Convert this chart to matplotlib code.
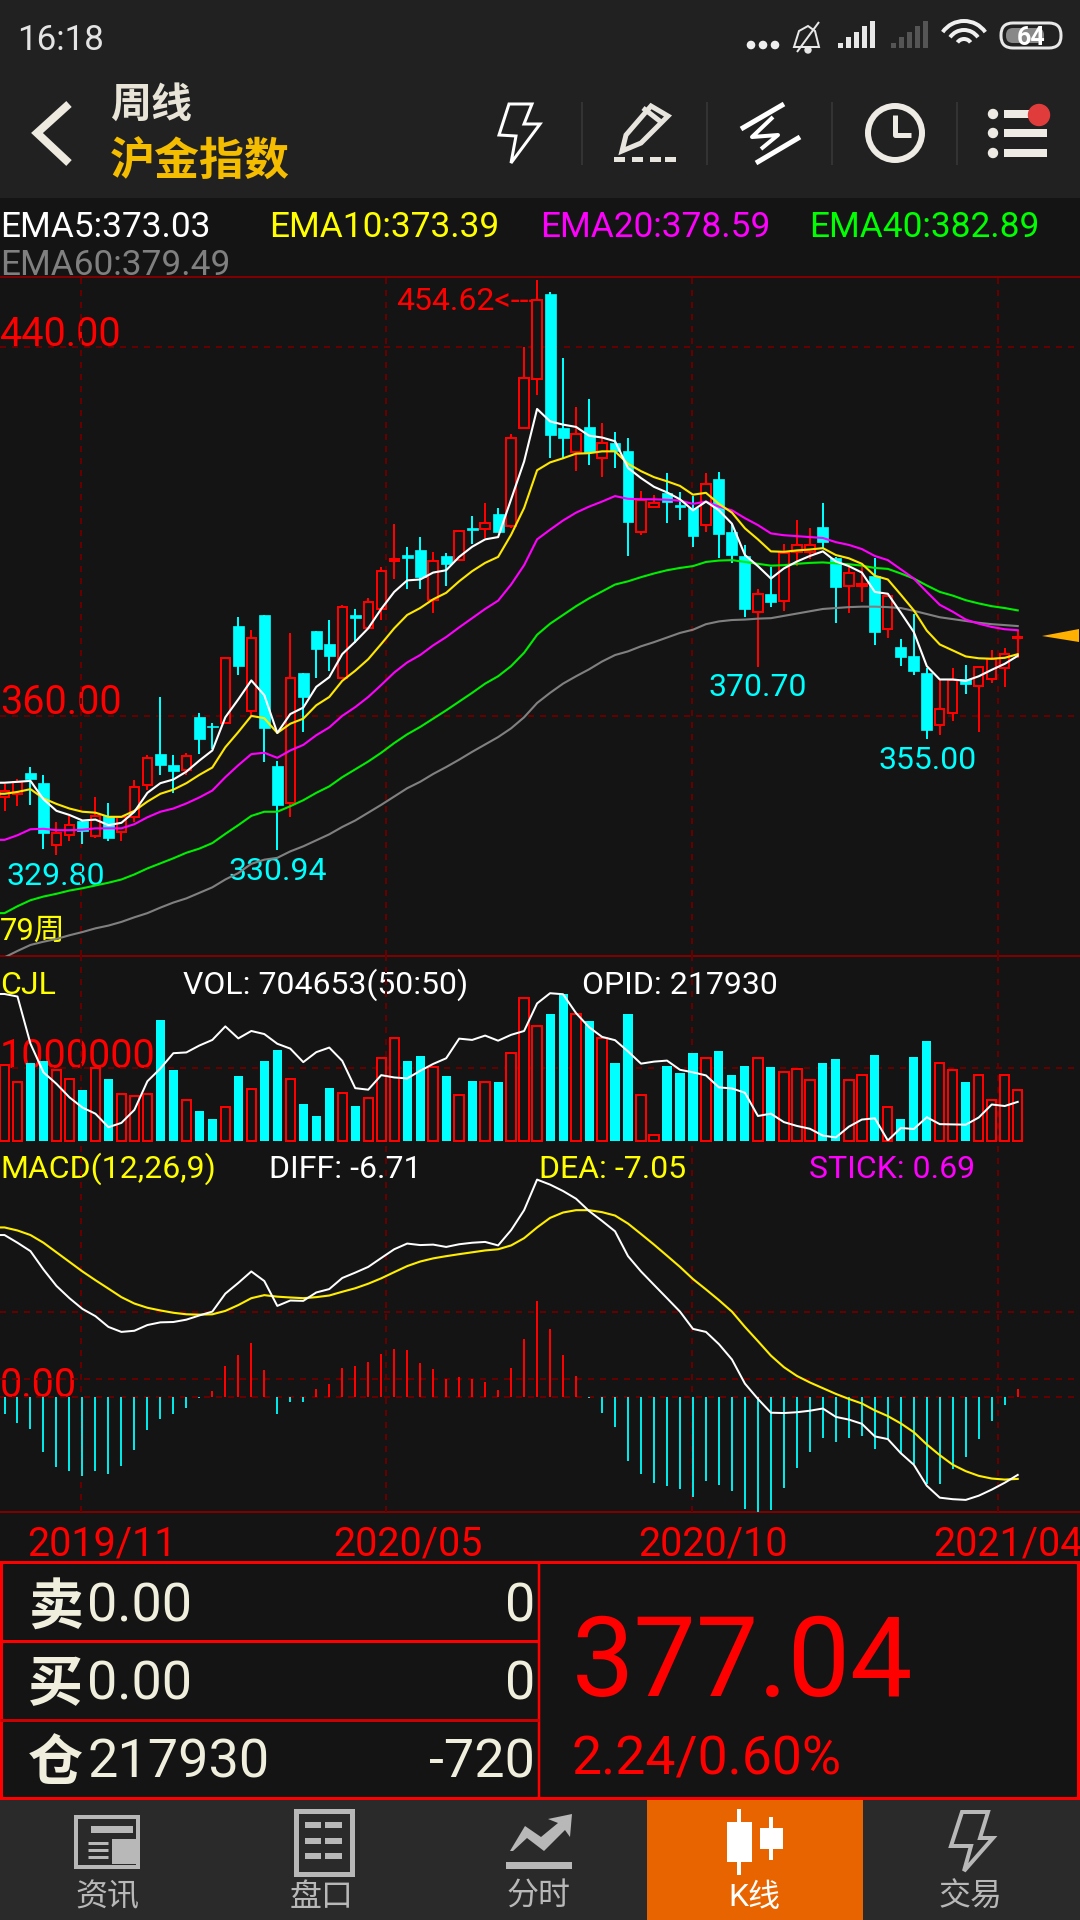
import matplotlib
matplotlib.use('Agg')
import matplotlib.pyplot as plt
from matplotlib.patches import Rectangle, Circle, Polygon, FancyBboxPatch, Arc

plt.rcParams['font.family'] = ['Roboto', 'Noto Sans CJK SC', 'DejaVu Sans']

# weekly candles, oldest first
opens = [342.5, 343.1, 347.7, 345.4, 331.9, 334.1, 337.1, 333.9, 338.3, 334.8, 338.0, 345.0, 351.8, 349.4, 348.3, 359.7,
         357.9, 358.5, 379.5, 361.0, 381.8, 349.2, 341.2, 369.4, 378.5, 375.5, 368.2, 381.9, 379.0, 383.1, 393.7, 395.0,
         396.1, 385.1, 394.7, 393.9, 400.7, 400.6, 403.8, 401.2, 422.5, 433.1, 451.6, 422.5, 417.2, 422.7, 416.0, 419.3,
         417.4, 400.0, 405.4, 408.4, 405.7, 405.0, 401.5, 411.3, 400.0, 394.7, 382.5, 386.4, 384.9, 395.6, 395.6, 401.0,
         394.3, 388.1, 388.2, 390.4, 378.8, 375.0, 373.0, 369.4, 358.1, 360.7, 367.9, 366.5, 368.0, 370.3, 376.9]
closes = [343.7, 345.7, 346.2, 334.6, 334.6, 336.4, 335.1, 338.3, 333.6, 338.0, 344.5, 350.8, 349.4, 348.1, 351.2, 354.9,
          357.5, 372.6, 370.8, 376.9, 357.3, 340.6, 368.3, 364.2, 374.5, 373.0, 383.7, 381.3, 384.7, 391.5, 394.1, 394.3,
          390.1, 393.6, 393.0, 400.2, 400.4, 401.9, 399.8, 420.4, 433.4, 450.3, 421.0, 420.2, 421.2, 417.3, 419.3, 417.4,
          402.1, 406.8, 406.3, 406.4, 405.4, 399.0, 410.4, 399.5, 395.0, 383.2, 386.4, 384.8, 395.4, 397.0, 397.0, 397.7,
          388.0, 390.9, 388.6, 378.2, 386.0, 372.8, 369.7, 357.0, 361.4, 367.7, 367.0, 370.6, 372.3, 373.4, 377.04]
highs = [345.2, 346.2, 348.9, 347.2, 337.0, 338.3, 337.3, 342.3, 341.2, 338.3, 346.0, 351.5, 364.1, 351.5, 352.0, 360.7,
         358.4, 372.6, 381.4, 378.6, 381.8, 350.3, 377.9, 369.4, 378.5, 380.9, 384.0, 383.1, 385.6, 392.2, 401.7, 396.6,
         398.8, 395.6, 395.4, 400.4, 403.3, 406.2, 405.1, 421.2, 440.1, 454.62, 451.9, 437.6, 427.1, 428.8, 423.6, 421.7,
         420.3, 408.9, 408.0, 412.6, 408.6, 407.7, 412.8, 413.0, 401.7, 397.0, 387.5, 392.3, 397.2, 402.5, 400.8, 406.3,
         394.5, 392.5, 392.3, 394.2, 386.3, 376.6, 382.1, 370.3, 367.9, 370.3, 371.1, 370.8, 374.4, 374.7, 378.7]
lows = [339.4, 340.4, 340.6, 331.2, 329.8, 332.9, 332.2, 333.6, 332.9, 332.9, 337.0, 344.0, 347.2, 343.3, 347.2, 351.8,
        352.8, 358.3, 368.8, 360.2, 350.1, 330.94, 338.0, 356.5, 368.2, 369.8, 367.9, 375.9, 378.8, 380.8, 389.8, 387.5,
        387.5, 382.4, 388.1, 393.7, 397.2, 398.6, 399.8, 400.7, 422.5, 429.7, 416.0, 415.9, 413.1, 414.5, 411.8, 413.7,
        394.8, 399.3, 405.1, 401.8, 402.6, 396.6, 399.8, 394.3, 393.1, 381.4, 370.7, 383.6, 382.7, 392.5, 394.0, 396.4,
        380.2, 382.3, 384.8, 375.3, 376.9, 370.9, 368.9, 355.0, 355.8, 358.9, 364.7, 356.5, 367.1, 366.3, 372.5]

ema5 = [345.5, 345.7, 345.9, 341.9, 339.4, 338.5, 337.3, 337.5, 336.3, 336.8, 339.2, 343.3, 345.4, 346.2, 347.9, 350.3,
        352.5, 359.7, 363.6, 367.7, 364.5, 356.3, 360.4, 361.8, 366.3, 368.4, 373.4, 376.1, 379.0, 383.2, 386.9, 389.4,
        389.6, 391.1, 391.6, 394.5, 396.7, 398.3, 398.8, 407.0, 415.2, 426.6, 423.9, 423.2, 422.7, 420.8, 420.4, 419.6,
        413.8, 411.6, 409.7, 408.5, 407.0, 404.6, 406.5, 404.6, 401.7, 394.9, 392.5, 389.8, 392.0, 393.5, 394.7, 395.7,
        393.5, 392.5, 391.1, 386.9, 386.5, 382.4, 378.2, 370.8, 367.9, 367.9, 367.6, 368.6, 370.0, 371.3, 373.03]
ema10 = [343.1, 343.5, 344.1, 342.1, 340.9, 339.9, 339.2, 339.0, 338.1, 338.1, 339.4, 341.4, 343.1, 344.0, 345.4, 347.2,
         348.8, 353.2, 356.5, 360.0, 359.5, 356.3, 358.3, 359.4, 362.3, 364.1, 367.6, 369.8, 372.3, 375.6, 379.0, 381.9,
         383.4, 385.3, 386.7, 389.2, 391.4, 393.2, 394.5, 399.3, 405.1, 413.3, 415.0, 415.9, 416.9, 417.0, 417.4, 417.4,
         414.7, 413.1, 411.8, 410.9, 409.9, 408.0, 408.4, 406.0, 404.1, 400.7, 398.3, 395.7, 395.6, 395.9, 396.1, 396.4,
         394.9, 394.2, 393.0, 390.4, 389.6, 386.3, 382.9, 378.5, 375.5, 374.2, 372.9, 372.5, 372.4, 372.6, 373.39]
ema20 = [333.1, 334.1, 335.4, 335.5, 335.2, 335.2, 335.3, 335.6, 335.6, 335.6, 336.5, 338.0, 339.2, 339.9, 341.0, 342.3,
         343.8, 346.7, 349.3, 351.7, 352.0, 350.9, 352.5, 353.7, 355.8, 357.5, 360.0, 361.9, 364.1, 366.7, 369.4, 371.6,
         373.2, 375.3, 377.1, 379.2, 381.2, 383.2, 385.0, 388.5, 392.7, 398.3, 400.4, 402.4, 404.1, 405.4, 406.5, 407.7,
         407.1, 407.0, 407.0, 406.9, 406.7, 406.0, 406.5, 405.4, 404.6, 402.9, 401.4, 399.6, 399.2, 399.0, 398.8, 398.6,
         397.7, 397.1, 396.2, 394.7, 393.8, 391.8, 389.8, 386.9, 384.1, 382.6, 380.9, 380.0, 379.3, 378.8, 378.59]
ema40 = [317.2, 318.7, 320.0, 320.8, 321.4, 322.1, 322.6, 323.2, 323.8, 324.5, 325.6, 326.9, 328.0, 329.1, 330.3, 331.2,
         332.4, 334.4, 336.3, 338.3, 339.2, 339.2, 340.4, 341.7, 343.3, 344.7, 346.7, 348.4, 350.1, 352.0, 354.1, 356.0,
         357.6, 359.4, 361.2, 363.1, 365.0, 367.0, 368.6, 370.8, 373.7, 377.6, 380.0, 381.9, 383.8, 385.5, 387.0, 388.5,
         389.2, 390.1, 390.9, 391.6, 392.1, 392.5, 393.4, 393.7, 393.8, 393.4, 393.0, 392.6, 392.7, 393.0, 393.2, 393.3,
         393.1, 392.9, 392.6, 392.1, 391.9, 390.9, 389.8, 388.3, 386.9, 386.1, 385.1, 384.4, 383.8, 383.4, 382.89]
ema60 = [307.6, 309.0, 310.3, 311.0, 311.6, 312.4, 313.1, 313.9, 314.5, 315.3, 316.3, 317.2, 318.4, 319.5, 320.4, 321.6,
         322.8, 324.5, 325.9, 327.9, 328.8, 329.2, 330.6, 331.7, 333.0, 334.3, 335.9, 337.3, 339.0, 340.7, 342.5, 344.3,
         345.7, 347.4, 348.9, 350.5, 352.2, 353.8, 355.4, 357.3, 359.7, 362.8, 365.0, 367.0, 368.6, 370.1, 371.8, 373.2,
         374.0, 375.1, 376.0, 377.0, 378.0, 378.7, 379.9, 380.5, 380.8, 380.9, 381.1, 381.2, 381.7, 382.2, 382.7, 383.2,
         383.4, 383.6, 383.7, 383.7, 383.6, 383.4, 382.8, 382.1, 381.4, 381.0, 380.6, 380.2, 379.9, 379.7, 379.49]

# volume in thousands of lots
volume = [1042, 812, 1068, 1094, 964, 849, 698, 1000, 849, 646, 620, 646, 1651, 969, 568, 411, 302, 464, 891, 714, 1094,
          1245, 849, 510, 344, 724, 661, 479, 583, 1135, 1411, 1094, 1161, 1016, 891, 635, 823, 802, 807, 1198, 1943, 1562,
          1734, 2005, 1729, 1635, 1411, 1068, 1734, 625, 89, 1026, 932, 1203, 1135, 1229, 901, 1026, 1135, 1010, 937, 990,
          838, 1068, 1120, 838, 896, 1177, 469, 302, 1146, 1365, 1068, 964, 807, 896, 568, 896, 704.653]
# open interest in thousands
opid = [260.2, 259.2, 240.7, 229.5, 225.0, 219.7, 215.7, 213.3, 208.0, 209.7, 214.8, 226.0, 231.0, 237.0, 237.3, 240.0,
        242.2, 247.5, 242.8, 245.7, 244.5, 240.7, 238.8, 233.5, 237.4, 239.2, 234.0, 223.3, 222.7, 228.4, 227.5, 227.1,
        230.1, 232.8, 235.0, 242.7, 242.2, 243.9, 241.9, 244.2, 245.7, 256.5, 260.5, 260.1, 252.7, 247.2, 243.4, 242.1,
        237.7, 232.9, 233.7, 234.1, 230.5, 229.5, 228.3, 223.6, 223.2, 221.5, 212.4, 213.3, 210.0, 208.5, 207.4, 204.7,
        204.0, 208.2, 211.0, 211.5, 202.8, 207.7, 207.3, 211.9, 209.2, 209.1, 209.0, 211.8, 216.9, 216.3, 217.93]

diff = [13.84, 13.18, 12.46, 10.89, 9.48, 8.43, 7.51, 6.89, 5.97, 5.54, 5.64, 6.13, 6.36, 6.39, 6.59, 6.95, 7.28, 8.82,
        9.74, 10.72, 9.90, 7.77, 8.23, 8.20, 8.92, 9.21, 10.16, 10.62, 11.11, 11.87, 12.62, 13.11, 12.98, 13.02, 12.82,
        13.05, 13.18, 13.25, 12.95, 14.26, 15.97, 18.59, 18.16, 17.61, 16.95, 15.90, 15.05, 14.16, 12.03, 10.72, 9.57,
        8.43, 7.28, 5.80, 5.54, 4.49, 3.18, 1.11, -0.20, -1.38, -1.41, -1.34, -1.21, -1.02, -1.74, -1.97, -2.33, -3.41,
        -3.64, -4.85, -5.84, -7.64, -8.66, -8.79, -8.85, -8.49, -7.97, -7.38, -6.71]
dea = [14.49, 14.23, 13.84, 13.18, 12.36, 11.54, 10.72, 9.97, 9.25, 8.52, 7.97, 7.61, 7.38, 7.18, 7.05, 7.02, 7.05, 7.34,
       7.84, 8.43, 8.69, 8.56, 8.49, 8.43, 8.52, 8.66, 8.98, 9.28, 9.67, 10.13, 10.66, 11.18, 11.57, 11.84, 12.03, 12.20,
       12.36, 12.52, 12.62, 12.95, 13.57, 14.49, 15.31, 15.77, 15.97, 15.97, 15.80, 15.51, 14.82, 13.93, 13.02, 12.07,
       11.11, 10.07, 9.18, 8.26, 7.28, 5.97, 4.75, 3.51, 2.52, 1.77, 1.21, 0.72, 0.23, -0.20, -0.59, -1.18, -1.67, -2.30,
       -3.05, -4.10, -5.02, -5.84, -6.39, -6.79, -7.02, -7.11, -7.05]
stick = [-1.48, -2.23, -2.79, -4.75, -6.00, -6.39, -6.82, -6.39, -6.59, -5.93, -4.59, -2.82, -1.90, -1.51, -0.98, -0.16,
         0.49, 2.62, 3.54, 4.56, 2.26, -1.51, -0.43, -0.43, 0.69, 1.08, 2.46, 2.66, 2.95, 3.67, 4.10, 3.97, 2.92, 2.36, 1.54,
         1.70, 1.54, 1.28, 0.56, 2.49, 4.95, 8.16, 5.80, 3.57, 1.80, -0.10, -1.41, -2.59, -5.48, -6.66, -7.38, -7.70, -7.90,
         -8.56, -7.25, -7.57, -8.13, -9.67, -9.87, -9.70, -7.84, -6.10, -4.72, -3.54, -3.87, -3.54, -3.38, -4.46, -3.64,
         -4.95, -5.74, -7.48, -7.51, -6.23, -5.15, -3.61, -2.07, -0.75, 0.69]

date_labels = ['2019/11', '2020/05', '2020/10', '2021/04']
date_grid = [5.9, 29.4, 52.9, 76.5]

RED = '#ff0000'
CYAN = '#00ffff'
BG = '#141414'
GRID = '#660000'
PX = 0.72  # px to points at dpi 100
CJK = ['Noto Sans CJK SC']

fig = plt.figure(figsize=(10.8, 19.2), dpi=100, facecolor=BG)

# pixel canvas for the app chrome and the labels
bg = fig.add_axes([0, 0, 1, 1], zorder=0)
bg.set_xlim(0, 1080)
bg.set_ylim(1920, 0)
bg.axis('off')


def txt(x, y, s, color, px, ha='left', **kw):
    bg.text(x, y, s, color=color, fontsize=px * PX, ha=ha, va='baseline', **kw)


def line(xs, ys, color, px=2, **kw):
    kw.setdefault('solid_capstyle', 'butt')
    bg.plot(xs, ys, color=color, lw=px * PX, **kw)


def rect(x0, y0, x1, y1, color, **kw):
    bg.add_patch(Rectangle((x0, y0), x1 - x0, y1 - y0, facecolor=color, edgecolor='none', **kw))


def panel(top, bottom, ylim):
    ax = fig.add_axes([0, 1 - bottom / 1920, 1, (bottom - top) / 1920], zorder=1)
    ax.patch.set_alpha(0)
    ax.set_xlim(-4.5 / 12.99, (1080 - 4.5) / 12.99)
    ax.set_ylim(*ylim)
    ax.axis('off')
    for g in date_grid:
        ax.axvline(g, color=GRID, lw=2 * PX, ls=(0, (3, 3)), zorder=1)
    return ax


# top bars
rect(0, 0, 1080, 198, '#212121')
txt(17, 50, '16:18', '#e4e4e4', 35)
for x in [751, 763, 775]:
    bg.add_patch(Circle((x, 45), 3.6, color='#eeeeee'))
bg.add_patch(Polygon([(808, 26), (815, 31), (819, 47), (794, 47), (799, 31)], closed=True, fill=False, ec='#e8e8e8', lw=2 * PX))
line([797, 819], [52, 22], '#e8e8e8', 2)
bg.add_patch(Circle((808, 50), 3, color='#e8e8e8'))
for k in range(5):
    rect(838 + k * 8, 48 - (k + 1) * 5.5, 843 + k * 8, 48, '#e8e8e8')
    rect(891 + k * 8, 48 - (k + 1) * 5.5, 896 + k * 8, 48, '#555555')
for r, w in [(26, 4), (17, 4), (8, 4)]:
    bg.add_patch(Arc((964, 47), 2 * r, 2 * r, theta1=215, theta2=325, color='#f0f0f0', lw=w * PX))
bg.add_patch(FancyBboxPatch((1001, 23), 60, 25, boxstyle='round,pad=0,rounding_size=12', fill=False, ec='#e8e8e8', lw=3 * PX))
bg.add_patch(FancyBboxPatch((1006, 28), 38, 15, boxstyle='round,pad=0,rounding_size=7', fc='#888888', ec='none'))
txt(1031, 45, '64', '#ffffff', 25, ha='center', fontweight='bold')

line([69, 37, 69], [104, 133, 163], '#eeeae0', 8, solid_joinstyle='miter')
txt(110, 117, '周线', '#e8e4d8', 41, family=CJK, fontweight='bold')
txt(110, 176, '沪金指数', '#f5bd00', 45, family=CJK, fontweight='bold')

for x in [582, 707, 832, 957]:
    line([x, x], [102, 165], '#3a3a3a', 1.5)
bg.add_patch(Polygon([(509, 104), (532, 104), (524, 124), (540, 124), (511, 163), (516, 136), (499, 135)], closed=True, fill=False, ec='#ffffff', lw=3 * PX))
bg.add_patch(Polygon([(651, 106), (668, 116), (641, 143), (622, 151), (626, 135)], closed=True, fill=False, ec='#e8e4de', lw=5 * PX))
line([643, 661], [108, 122], '#e8e4de', 5)
for x in [614, 632, 650, 665]:
    rect(x, 157, x + 11, 162, '#e8e4de')
line([784, 741], [104, 129], '#ffffff', 5)
line([800, 756], [137, 163], '#ffffff', 5)
line([773, 752, 778, 761], [117, 137, 135, 149], '#ffffff', 4)
bg.add_patch(Circle((895, 133), 27, fill=False, ec='#eeeae4', lw=6 * PX))
line([895, 895, 911], [115, 135, 135], '#eeeae4', 5)
for y in [114, 133, 153]:
    bg.add_patch(Circle((993, y), 4.5, color='#eeeae4'))
    rect(1004, y - 4, 1047, y + 4, '#eeeae4')
bg.add_patch(Circle((1039, 115), 10.5, color='#e03c3c'))

# indicator header
txt(0, 237, 'EMA5:373.03', '#ffffff', 35.3)
txt(269, 237, 'EMA10:373.39', '#ffff00', 35.3)
txt(540, 237, 'EMA20:378.59', '#ff00ff', 35.3)
txt(809, 237, 'EMA40:382.89', '#00ff00', 35.3)
txt(0, 275, 'EMA60:379.49', '#808080', 35.3)

for y in [277, 956, 1512]:
    line([0, 1080], [y, y], '#800000', 2)

# labels that sit under the marks
txt(0, 346, '440.00', RED, 39.5)
txt(0, 714, '360.00', RED, 39.5)
txt(396, 310, '454.62<---', RED, 32)
txt(7, 885, '329.80', CYAN, 32)
txt(228, 880, '330.94', CYAN, 32)
txt(709, 696, '370.70', CYAN, 32)
txt(878, 769, '355.00', CYAN, 32)
txt(0, 940, '79周', '#ffff00', 31)
bg.add_patch(Polygon([(1042, 636), (1079, 629), (1079, 642)], closed=True, fc='#ffb000', ec='none'))

txt(0, 994, 'CJL', '#ffff00', 32)
txt(183, 994, 'VOL: 704653(50:50)', '#ffffff', 32)
txt(582, 994, 'OPID: 217930', '#ffffff', 32)
txt(0, 1068, '1000000', RED, 39.5)
txt(0, 1178, 'MACD(12,26,9)', '#ffff00', 32)
txt(269, 1178, 'DIFF: -6.71', '#ffffff', 32)
txt(539, 1178, 'DEA: -7.05', '#ffff00', 32)
txt(809, 1178, 'STICK: 0.69', '#ff00ff', 32)
txt(0, 1397, '0.00', RED, 39.5)

for x, s in zip([27, 333, 638, 933], date_labels):
    txt(x, 1555, s, RED, 39.5)

# quote table
bg.add_patch(Rectangle((1, 1562), 1077, 236, fill=False, ec=RED, lw=3 * PX))
line([539, 539], [1562, 1798], RED, 2.5)
line([0, 539], [1641, 1641], RED, 3)
line([0, 539], [1720, 1720], '#cc0000', 3)
CREAM = '#f0eedc'
for y, head, left, right in [(1622, '卖', '0.00', '0'), (1699, '买', '0.00', '0'), (1778, '仓', '217930', '-720')]:
    txt(28, y + 2, head, CREAM, 55, family=CJK, fontweight='bold')
    txt(87, y, left, CREAM, 54)
    txt(535, y, right, CREAM, 54, ha='right')
txt(572, 1696, '377.04', RED, 111)
txt(572, 1775, '2.24/0.60%', RED, 53.5)

# tab bar
rect(0, 1800, 1080, 1920, '#2a2a2a')
rect(647, 1800, 863, 1920, '#e86400')
GREY = '#b8b8b8'
for x, s, c in [(107, '资讯', GREY), (322, '盘口', GREY), (539, '分时', GREY), (754, 'K线', '#ffffff'), (971, '交易', GREY)]:
    txt(x, 1906, s, c, 32, ha='center')
bg.add_patch(Rectangle((76, 1817), 62, 50, fill=False, ec=GREY, lw=4 * PX))
for y in [1843, 1850, 1857]:
    line([88, 108], [y, y], GREY, 3)
rect(91, 1826, 133, 1833, GREY)
rect(112, 1839, 136, 1864, GREY)
bg.add_patch(Rectangle((296, 1811), 56, 63, fill=False, ec=GREY, lw=5 * PX))
for y in [1825, 1841, 1856]:
    rect(305, y - 3, 321, y + 3, GREY)
    rect(325, y - 3, 342, y + 3, GREY)
bg.add_patch(Polygon([(510, 1851), (525, 1826), (541, 1837), (558, 1823), (548, 1819), (572, 1814), (570, 1837), (565, 1830), (544, 1851), (527, 1838), (513, 1851)], closed=True, fc=GREY, ec='none'))
rect(506, 1862, 572, 1869, GREY)
line([739, 739], [1809, 1875], '#ffffff', 4)
rect(727, 1822, 752, 1862, '#ffffff')
line([771, 771], [1817, 1860], '#ffffff', 4)
rect(760, 1828, 783, 1849, '#ffffff')
bg.add_patch(Polygon([(962, 1812), (988, 1812), (980, 1838), (993, 1838), (964, 1871), (971, 1846), (951, 1846)], closed=True, fill=False, ec=GREY, lw=4 * PX))

# candles
x = list(range(len(closes)))
# the lines run on to the left edge of the screen
lx = [-0.35] + x
colors = [RED if c >= o else CYAN for o, c in zip(opens, closes)]
ax = panel(277.6, 956, (307.9, 455.1))
for y in [440, 360]:
    ax.axhline(y, color=GRID, lw=2 * PX, ls=(0, (3, 3)), zorder=1)
ax.vlines(x, lows, highs, colors=colors, lw=2 * PX, zorder=2)
up = [i for i in x if colors[i] == RED]
down = [i for i in x if colors[i] == CYAN]
ax.bar(up, [closes[i] - opens[i] for i in up], bottom=[opens[i] for i in up], width=0.72,
       facecolor=BG, edgecolor=RED, lw=2 * PX, zorder=3)
ax.bar(down, [closes[i] - opens[i] for i in down], bottom=[opens[i] for i in down], width=0.84,
       facecolor=CYAN, edgecolor=CYAN, lw=0.5, zorder=3)
for s, c in [(ema60, '#808080'), (ema40, '#00ee00'), (ema20, '#ff00ff'), (ema10, '#ffe800'), (ema5, '#ffffff')]:
    ax.plot(lx, [s[0]] + s, color=c, lw=2.1 * PX, zorder=4)

# volume and open interest
ax_vol = panel(956, 1141.3, (0, 2521))
ax_vol.axhline(1000, color=GRID, lw=2 * PX, ls=(0, (3, 3)), zorder=1)
ax_vol.bar(up, [volume[i] for i in up], width=0.72, facecolor=BG, edgecolor=RED, lw=2 * PX, zorder=3, clip_on=False)
ax_vol.bar(down, [volume[i] for i in down], width=0.7, facecolor=CYAN, edgecolor='none', zorder=3)
ax_oi = ax_vol.twinx()
ax_oi.set_ylim(202.48, 275.08)
ax_oi.axis('off')
ax_oi.plot(lx, [opid[0]] + opid, color='#ffffff', lw=2 * PX, zorder=4)

# macd
ax_macd = panel(1141.3, 1511.8, (-9.87, 21.87))
for y in [7.28, 1.54, 0]:
    ax_macd.axhline(y, color=GRID, lw=2 * PX, ls=(0, (3, 3)), zorder=1)
ax_macd.vlines(x, 0, stick, colors=[RED if v > 0 else '#00e8e8' for v in stick], lw=2 * PX, zorder=2)
ax_macd.plot(lx, [dea[0]] + dea, color='#ffee00', lw=2.1 * PX, zorder=3)
ax_macd.plot(lx, [diff[0]] + diff, color='#ffffff', lw=2 * PX, zorder=4)

fig.savefig('out.png', dpi=100, facecolor=BG)
